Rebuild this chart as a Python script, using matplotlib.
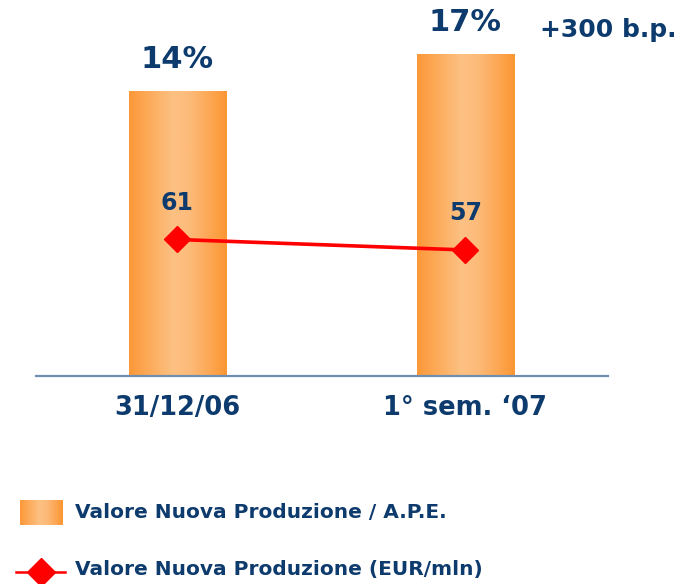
import matplotlib
matplotlib.use("Agg")
import matplotlib.pyplot as plt
import numpy as np
from matplotlib.colors import LinearSegmentedColormap
from matplotlib.lines import Line2D

# --- dati ---------------------------------------------------------
categorie = ["31/12/06", "1° sem. \u201807"]
vnp_ape = [14, 17]            # Valore Nuova Produzione / A.P.E. (%)
vnp_eur = [61, 57]            # Valore Nuova Produzione (EUR/mln)
delta_txt = "+300 b.p."
leg_barre = "Valore Nuova Produzione / A.P.E."
leg_linea = "Valore Nuova Produzione (EUR/mln)"

BLU = "#0E3B6D"
ROSSO = "#FF0000"
arancio = LinearSegmentedColormap.from_list(
    "arancio", [(0, "#FC9838"), (0.45, "#FDC183"), (0.62, "#FDBB7A"), (1, "#FC9633")])
grad = np.linspace(0, 1, 256).reshape(1, -1)

W, H = 695, 584
fig = plt.figure(figsize=(W / 100, H / 100), dpi=100)
plt.rcParams["font.family"] = "DejaVu Sans"


def px(x0, y0, x1, y1):
    # box in pixel (origine in alto a sinistra) -> frazioni figura
    return [x0 / W, 1 - y1 / H, (x1 - x0) / W, (y1 - y0) / H]


ax = fig.add_axes(px(36, 0, 608, 375.5))
x = np.arange(len(categorie))
ymin, ymax = -9.07, 21.38

barre = ax.bar(x, np.array(vnp_ape) - ymin, bottom=ymin, width=0.337,
               facecolor="none", edgecolor="none", zorder=2)
for b, v in zip(barre, vnp_ape):
    x0, y0 = b.get_x(), b.get_y()
    im = ax.imshow(grad, cmap=arancio, aspect="auto", zorder=2,
                   extent=[x0, x0 + b.get_width(), y0, y0 + b.get_height()])
    im.set_clip_path(b)
    ax.annotate(f"{v}%", (b.get_x() + b.get_width() / 2, v), xytext=(0, 23),
                textcoords="offset points", ha="center", va="center",
                fontsize=22, fontweight="bold", color=BLU)
ax.set_xlim(-0.491, 1.495)
ax.set_ylim(ymin, ymax)

for s in ["top", "right", "left"]:
    ax.spines[s].set_visible(False)
ax.spines["bottom"].set_color("#6F8FB0")
ax.spines["bottom"].set_linewidth(1.6)
ax.set_yticks([])
ax.set_xticks(x)
ax.set_xticklabels(categorie, fontsize=18.5, fontweight="bold", color=BLU)
ax.tick_params(axis="x", length=0, pad=14)

ax2 = ax.twinx()
ax2.set_ylim(9.2, 152.2)
ax2.axis("off")
ax2.plot(x, vnp_eur, color=ROSSO, lw=2.6, marker="D", ms=13, zorder=3)
for xi, v in zip(x, vnp_eur):
    ax2.annotate(str(v), (xi, v), xytext=(0, 26.5), textcoords="offset points",
                 ha="center", va="center", fontsize=17, fontweight="bold", color=BLU)

fig.text(608 / W, 1 - 30 / H, delta_txt, ha="center", va="center",
         fontsize=18, fontweight="bold", color=BLU)

# --- legenda ------------------------------------------------------
axl = fig.add_axes(px(20, 500, 63, 525))
axl.imshow(grad, cmap=arancio, aspect="auto")
axl.axis("off")
fig.text(75 / W, 1 - 513 / H, leg_barre, ha="left", va="center",
         fontsize=14.5, fontweight="bold", color=BLU)

fig.add_artist(Line2D([16 / W, 65 / W], [1 - 572 / H, 1 - 572 / H],
                      transform=fig.transFigure, color=ROSSO, lw=1.8))
fig.add_artist(Line2D([40.5 / W], [1 - 572 / H], transform=fig.transFigure,
                      color=ROSSO, marker="D", ms=14, lw=0))
fig.text(75 / W, 1 - 570 / H, leg_linea, ha="left", va="center",
         fontsize=14.5, fontweight="bold", color=BLU)

fig.savefig("out.png", dpi=100)
